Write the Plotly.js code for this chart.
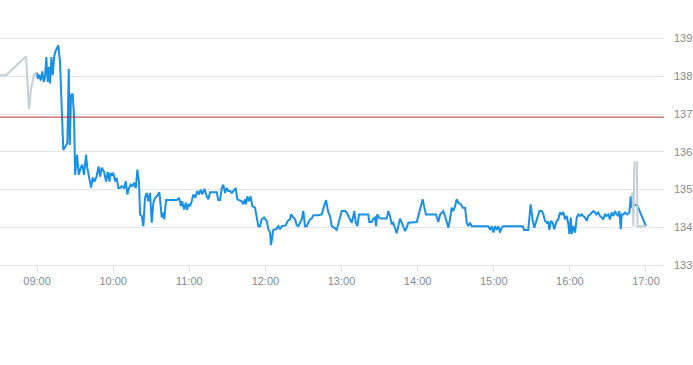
<!DOCTYPE html>
<html>
<head>
<meta charset="utf-8">
<script src="https://cdn.plot.ly/plotly-3.0.1.min.js"></script>
<style>
html,body{margin:0;padding:0;background:#fff;}
#chart{width:693px;height:365px;}
</style>
</head>
<body>
<div id="chart"></div>
<script>
// Minutes relative to 09:00 and prices
const preMin = [-29.2, -24.4, -8.7, -6.3, -4.7, -2.4, -0.8];
const preVal = [138.03, 138.03, 138.53, 137.13, 137.68, 138.03, 138.10];

const mainMin = [0, 0.55, 1.8, 2.9, 4.2, 5.3, 6.3, 7.3, 8.4, 9.5, 10.2, 11.3, 12.4, 13.6, 14.7, 16.8, 18.1, 19.7, 20.7, 22.3,
  23.9, 25.0, 25.8, 26.8, 28.1, 29.2, 30.0, 31.5, 32.9, 34.4, 35.7, 37.0, 38.6, 39.6, 41.2, 42.6, 43.9, 45.2, 46.7, 48.6,
  49.7, 51.0, 52.8, 54.4, 55.7, 57.1, 57.9, 58.9, 60.1, 61.5, 62.8, 64.1, 65.4, 66.8, 68.6, 69.9, 71.2, 72.5, 73.9, 75.1,
  76.5, 77.8, 79.1, 80.4, 81.2, 82.5, 83.8, 85.1, 86.5, 87.7, 89.1, 90.4, 91.7, 93.0, 94.4, 96.4, 98.3, 99.6, 100.3, 101.7,
  103.5, 110.1, 111.9, 113.5, 114.3, 115.9, 117.2, 118.2, 119.3, 120.6, 121.9, 123.2, 124.8, 126.3, 127.7, 129.0, 130.3, 131.9, 133.8, 135.0,
  136.4, 141.6, 142.9, 144.2, 145.6, 146.8, 148.2, 149.5, 150.8, 152.1, 153.5, 154.7, 156.6, 157.9, 160.0, 161.3, 162.6, 163.9, 164.7, 165.8,
  167.1, 168.4, 169.7, 171.8, 173.2, 174.4, 175.8, 177.1, 178.9, 181.0, 182.3, 183.7, 184.4, 186.3, 188.4, 190.2, 191.5, 192.9, 196.0, 197.6,
  199.4, 200.2, 202.0, 203.4, 204.7, 206.0, 207.3, 208.6, 209.9, 211.2, 212.6, 213.8, 215.2, 216.5, 217.8, 221.7, 224.4, 226.2, 227.8, 229.6,
  230.9, 232.3, 233.5, 234.9, 236.2, 237.5, 238.8, 240.2, 242.8, 244.1, 245.4, 246.7, 248.0, 249.3, 250.1, 251.2, 252.5, 253.8, 261.1, 261.9,
  263.8, 265.1, 266.4, 267.2, 268.2, 269.6, 270.9, 275.6, 276.9, 278.2, 279.6, 280.8, 282.2, 283.5, 284.8, 286.1, 287.5, 288.7, 290.1, 291.4,
  292.7, 299.3, 300.5, 301.9, 304.0, 305.3, 306.6, 314.5, 316.3, 317.7, 319.0, 320.2, 321.6, 322.9, 324.2, 325.5, 326.8, 328.1, 329.5, 330.8,
  332.1, 334.0, 335.5, 337.4, 338.7, 339.9, 341.3, 342.6, 355.7, 357.1, 358.4, 359.7, 361.0, 362.3, 363.6, 364.9, 366.3, 367.5, 382.8, 383.9,
  387.2, 389.1, 390.7, 392.0, 393.9, 396.0, 397.9, 399.1, 400.4, 401.8, 403.0, 403.8, 405.1, 406.5, 407.7, 409.6, 410.9, 412.2, 413.6, 414.8,
  416.2, 417.5, 418.8, 419.6, 420.7, 421.5, 422.7, 424.1, 425.4, 426.6, 428.0, 429.3, 430.6, 431.9, 433.3, 434.5, 435.9, 437.2, 438.5, 439.8,
  441.1, 442.4, 443.7, 445.1, 446.3, 447.7, 449.0, 450.3, 451.6, 452.9, 454.3, 455.6, 456.9, 458.2, 459.0, 460.1, 460.9, 462.1, 463.5, 465.3,
  466.9, 468.0, 468.8, 472.8, 480.0];
const mainVal = [138.10, 137.94, 138.04, 137.89, 138.13, 137.85, 137.98, 138.51, 137.85, 138.25, 137.81, 138.51, 138.03, 138.55, 138.68, 138.82, 138.38, 136.97, 136.05, 136.14,
  136.23, 138.20, 136.18, 137.50, 137.54, 136.90, 135.39, 135.92, 135.39, 135.58, 135.66, 135.39, 135.92, 135.58, 135.26, 135.05, 135.32, 135.21, 135.32, 135.61,
  135.34, 135.58, 135.47, 135.21, 135.47, 135.21, 135.44, 135.39, 135.44, 135.22, 135.31, 135.04, 135.04, 135.09, 135.03, 135.22, 134.87, 135.04, 135.13, 135.09,
  135.18, 135.04, 135.53, 135.18, 134.34, 134.30, 134.03, 134.78, 134.91, 134.69, 134.91, 134.12, 134.65, 134.78, 134.82, 134.93, 134.26, 134.39, 134.21, 134.72,
  134.72, 134.72, 134.78, 134.56, 134.69, 134.47, 134.65, 134.46, 134.61, 134.56, 134.69, 134.87, 134.78, 134.96, 134.87, 135.00, 134.87, 135.02, 134.82, 134.74,
  134.93, 134.93, 134.72, 134.72, 135.04, 135.13, 134.91, 135.04, 134.96, 134.96, 134.91, 134.96, 135.04, 134.74, 134.72, 134.69, 134.61, 134.74, 134.61, 134.82,
  134.69, 134.82, 134.56, 134.52, 134.26, 134.03, 134.03, 134.21, 134.26, 134.17, 133.95, 133.86, 133.53, 133.93, 133.95, 134.03, 133.95, 134.03, 134.05, 134.17,
  134.21, 134.34, 134.26, 134.21, 134.05, 134.03, 134.12, 134.21, 134.43, 134.03, 134.03, 134.12, 134.21, 134.23, 134.32, 134.32, 134.34, 134.56, 134.72, 134.39,
  134.30, 134.03, 133.99, 133.97, 133.93, 134.12, 134.30, 134.43, 134.43, 134.39, 134.30, 134.21, 134.12, 134.30, 134.43, 134.12, 134.03, 134.34, 134.34, 134.14,
  134.14, 134.23, 134.26, 134.03, 134.34, 134.26, 134.23, 134.23, 134.43, 134.30, 134.08, 134.12, 133.99, 133.84, 134.03, 134.23, 134.12, 133.99, 133.90, 133.99,
  134.12, 134.14, 134.30, 134.52, 134.74, 134.52, 134.34, 134.34, 134.14, 134.34, 134.39, 134.43, 134.30, 134.12, 133.99, 134.21, 134.52, 134.43, 134.56, 134.74,
  134.65, 134.61, 134.52, 134.52, 134.12, 134.03, 134.12, 134.03, 134.03, 133.93, 134.03, 133.86, 134.03, 133.93, 134.03, 133.86, 133.99, 134.03, 134.03, 133.93,
  133.93, 134.61, 134.17, 133.99, 134.21, 134.43, 134.43, 134.34, 134.17, 134.12, 134.14, 133.93, 134.17, 134.12, 133.95, 134.17, 134.21, 134.39, 134.34, 134.40,
  134.21, 134.30, 134.08, 133.82, 134.26, 133.82, 134.03, 133.86, 134.26, 134.34, 134.30, 134.34, 134.30, 134.26, 134.17, 134.30, 134.34, 134.39, 134.43, 134.39,
  134.34, 134.39, 134.30, 134.26, 134.21, 134.34, 134.30, 134.34, 134.21, 134.39, 134.30, 134.43, 134.34, 134.30, 134.43, 133.95, 134.34, 134.34, 134.39, 134.34,
  134.39, 134.82, 134.55, 134.60, 134.03];

const postMin = [468.6, 469.4, 470.1, 470.9, 472.8, 473.3, 480.0];
const postVal = [134.85, 134.91, 134.03, 135.72, 135.72, 134.03, 134.03];

const prevClose = 136.92;
const tickLabels = ["09:00","10:00","11:00","12:00","13:00","14:00","15:00","16:00","17:00"];

const DAY = "2024-01-05";
function toTime(m) {
  const totalSec = Math.round((9 * 60 + m) * 60);
  const h = Math.floor(totalSec / 3600);
  const mi = Math.floor((totalSec % 3600) / 60);
  const s = totalSec % 60;
  const p = n => String(n).padStart(2, "0");
  return DAY + " " + p(h) + ":" + p(mi) + ":" + p(s);
}

const xStart = toTime(-29.2);
const xEnd = toTime(494.2);

const traces = [
  {x: mainMin.map(toTime), y: mainVal, type: "scatter", mode: "lines",
   line: {color: "#1890e4", width: 2}, hoverinfo: "skip"},
  {x: preMin.map(toTime), y: preVal, type: "scatter", mode: "lines",
   line: {color: "#c3ced6", width: 2}, hoverinfo: "skip"},
  {x: postMin.map(toTime), y: postVal, type: "scatter", mode: "lines",
   line: {color: "#c3ced6", width: 2}, hoverinfo: "skip"},
  {x: [xStart, xEnd], y: [prevClose, prevClose], type: "scatter", mode: "lines",
   line: {color: "#b83232", width: 1}, hoverinfo: "skip"}
];

const layout = {
  width: 693, height: 365,
  margin: {l: 0, r: 29, t: 16, b: 100},
  paper_bgcolor: "#ffffff", plot_bgcolor: "#ffffff",
  showlegend: false,
  font: {family: "Liberation Sans, Arial, sans-serif", size: 11, color: "#7f8b96"},
  xaxis: {
    type: "date",
    range: [xStart, xEnd],
    tickvals: tickLabels.map(t => DAY + " " + t + ":00"),
    ticktext: tickLabels,
    showgrid: false,
    showline: true, linecolor: "#dfe3e8", linewidth: 1,
    ticks: "outside", ticklen: 6, tickcolor: "#dfe3e8", tickwidth: 1,
    tickfont: {size: 11, color: "#7f8b96"},
    zeroline: false
  },
  yaxis: {
    side: "right",
    range: [133, 139.6],
    dtick: 1, tick0: 133,
    showgrid: true, gridcolor: "#e3e6ea", gridwidth: 1,
    zeroline: false, showline: false,
    ticks: "",
    ticklabelstandoff: 9,
    tickfont: {size: 11, color: "#7f8b96"}
  }
};

Plotly.newPlot("chart", traces, layout, {displayModeBar: false, staticPlot: true});
</script>
</body>
</html>
